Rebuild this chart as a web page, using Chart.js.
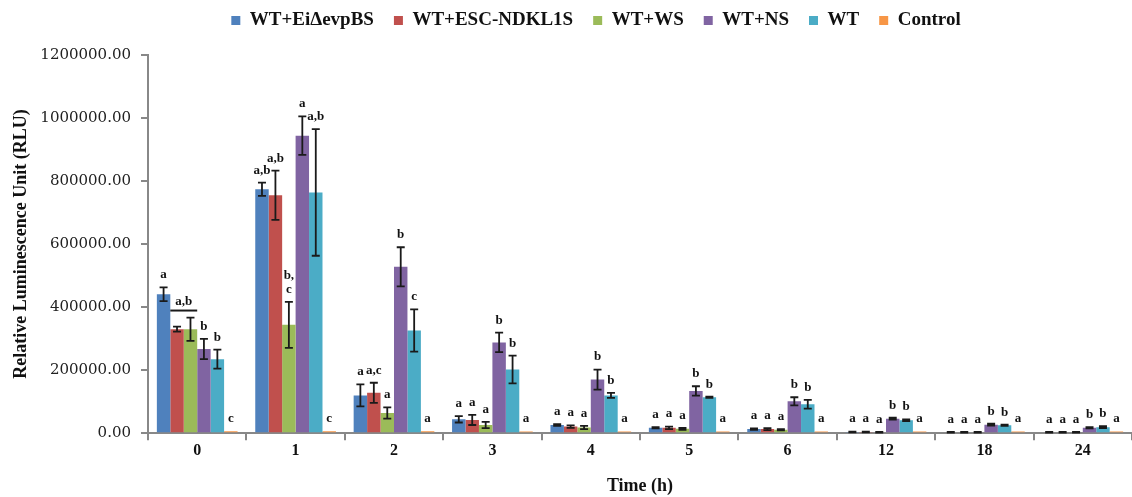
<!DOCTYPE html>
<html>
<head>
<meta charset="utf-8">
<script src="https://cdn.jsdelivr.net/npm/chart.js@4/dist/chart.umd.min.js"></script>
<style>
  html, body { margin: 0; padding: 0; background: #fff; }
  #wrap { width: 1132px; height: 497px; }
</style>
</head>
<body>
<div id="wrap"><canvas id="chart"></canvas></div>
<script>
// Time points (h)
const categories = ['0', '1', '2', '3', '4', '5', '6', '12', '18', '24'];

// Mean RLU per group
const eiDeltaEvpBS = [441000, 774000, 120000, 44000, 26000, 17000, 13000, 4000, 3000, 3000];
const escNdkl1s    = [330000, 755000, 128000, 42000, 21000, 17000, 13000, 4000, 3000, 3000];
const ws           = [330000, 344000, 64000, 26000, 18000, 14000, 11000, 3000, 3000, 3000];
const ns           = [267000, 944000, 528000, 288000, 170000, 134000, 101000, 46000, 27000, 17000];
const wt           = [235000, 764000, 326000, 202000, 120000, 114000, 92000, 41000, 25000, 19000];
const control      = [6000, 6000, 6000, 5000, 5000, 5000, 5000, 5000, 5000, 5000];

// Error (+/-) per group
const eiDeltaEvpBSErr = [22000, 21000, 35000, 10000, 3000, 2000, 2000, 1000, 1000, 1000];
const escNdkl1sErr    = [8000, 78000, 32000, 16000, 4000, 4000, 3000, 1000, 1000, 1000];
const wsErr           = [37000, 73000, 18000, 10000, 5000, 3000, 2000, 1000, 1000, 1000];
const nsErr           = [32000, 61000, 62000, 31000, 32000, 15000, 13000, 3000, 3000, 2000];
const wtErr           = [30000, 201000, 67000, 44000, 8000, 2000, 14000, 3000, 2000, 3000];
const controlErr      = [0, 0, 0, 0, 0, 0, 0, 0, 0, 0];

// Significance letters ('|' = line break)
const eiDeltaEvpBSLetters = ['a', 'a,b', 'a', 'a', 'a', 'a', 'a', 'a', 'a', 'a'];
const escNdkl1sLetters    = ['a,b', 'a,b', 'a,c', 'a', 'a', 'a', 'a', 'a', 'a', 'a'];
const wsLetters           = ['', 'b,|c', 'a', 'a', 'a', 'a', 'a', 'a', 'a', 'a'];
const nsLetters           = ['b', 'a', 'b', 'b', 'b', 'b', 'b', 'b', 'b', 'b'];
const wtLetters           = ['b', 'a,b', 'c', 'b', 'b', 'b', 'b', 'b', 'b', 'b'];
const controlLetters      = ['c', 'c', 'a', 'a', 'a', 'a', 'a', 'a', 'a', 'a'];

// Shared-letter bracket: category 0, red and green bars
const brackets = [{ category: 0, from: 1, to: 2 }];

const yTicks = [0, 200000, 400000, 600000, 800000, 1000000, 1200000];

const SERIF = "'Liberation Serif', 'Times New Roman', serif";

const series = [
  { label: 'WT+EiΔevpBS',   data: eiDeltaEvpBS, err: eiDeltaEvpBSErr, letters: eiDeltaEvpBSLetters, color: '#4F81BD' },
  { label: 'WT+ESC-NDKL1S', data: escNdkl1s,    err: escNdkl1sErr,    letters: escNdkl1sLetters,    color: '#C0504D' },
  { label: 'WT+WS',         data: ws,           err: wsErr,           letters: wsLetters,           color: '#9BBB59' },
  { label: 'WT+NS',         data: ns,           err: nsErr,           letters: nsLetters,           color: '#8064A2' },
  { label: 'WT',            data: wt,           err: wtErr,           letters: wtLetters,           color: '#4BACC6' },
  { label: 'Control',       data: control,      err: controlErr,      letters: controlLetters,      color: '#F79646' }
];

// nudge the legend to where the original sits
const legendShift = {
  id: 'legendShift',
  afterLayout(chart) {
    const lg = chart.legend;
    if (!lg) return;
    const dx = 30, dy = -15;
    lg.left += dx; lg.right += dx;
    lg.top += dy; lg.bottom += dy;
  }
};

// Error bars + letters drawn from the bar elements and y scale
const annotatePlugin = {
  id: 'annotate',
  afterDatasetsDraw(chart) {
    const ctx = chart.ctx;
    const yScale = chart.scales.y;
    const tops = {}; // highest point per dataset/category
    ctx.save();
    ctx.strokeStyle = '#1a1a1a';
    ctx.lineWidth = 1.8;
    series.forEach((s, di) => {
      const meta = chart.getDatasetMeta(di);
      meta.data.forEach((bar, i) => {
        const v = s.data[i], e = s.err[i];
        let top = yScale.getPixelForValue(v);
        if (e) {
          const yt = yScale.getPixelForValue(v + e);
          const yb = yScale.getPixelForValue(v - e);
          const cap = 4;
          ctx.beginPath();
          ctx.moveTo(bar.x, yt); ctx.lineTo(bar.x, yb);
          ctx.moveTo(bar.x - cap, yt); ctx.lineTo(bar.x + cap, yt);
          ctx.moveTo(bar.x - cap, yb); ctx.lineTo(bar.x + cap, yb);
          ctx.stroke();
          top = Math.min(top, yt);
        }
        tops[di + '_' + i] = top;
      });
    });

    ctx.fillStyle = '#111';
    ctx.font = 'bold 13px ' + SERIF;
    ctx.textAlign = 'center';
    ctx.textBaseline = 'bottom';

    const bracketed = {};
    brackets.forEach(b => {
      const m1 = chart.getDatasetMeta(b.from).data[b.category];
      const m2 = chart.getDatasetMeta(b.to).data[b.category];
      let top = Infinity;
      for (let d = b.from; d <= b.to; d++) top = Math.min(top, tops[d + '_' + b.category]);
      const lineY = top - 7;
      const x1 = m1.x - m1.width / 2, x2 = m2.x + m2.width / 2;
      ctx.lineWidth = 2;
      ctx.beginPath(); ctx.moveTo(x1, lineY); ctx.lineTo(x2, lineY); ctx.stroke();
      ctx.fillText(series[b.from].letters[b.category], (x1 + x2) / 2, lineY - 2);
      for (let d = b.from; d <= b.to; d++) bracketed[d + '_' + b.category] = true;
    });

    series.forEach((s, di) => {
      const meta = chart.getDatasetMeta(di);
      meta.data.forEach((bar, i) => {
        if (bracketed[di + '_' + i]) return;
        const txt = s.letters[i];
        if (!txt) return;
        const lines = txt.split('|').reverse();
        let y = tops[di + '_' + i] - 6;
        lines.forEach(line => {
          ctx.fillText(line, bar.x, y);
          y -= 14;
        });
      });
    });
    ctx.restore();
  }
};

new Chart(document.getElementById('chart'), {
  type: 'bar',
  data: {
    labels: categories,
    datasets: series.map(s => ({
      label: s.label,
      data: s.data,
      backgroundColor: s.color,
      borderWidth: 0,
      categoryPercentage: 0.82,
      barPercentage: 1.0
    }))
  },
  options: {
    responsive: true,
    maintainAspectRatio: false,
    animation: false,
    layout: { padding: { top: 6, right: 0, bottom: 0, left: 0 } },
    plugins: {
      legend: {
        position: 'top',
        labels: {
          boxWidth: 9,
          boxHeight: 9,
          padding: 20,
          color: '#111',
          font: { family: SERIF, size: 19, weight: 'bold' }
        }
      },
      tooltip: { enabled: false }
    },
    scales: {
      x: {
        grid: { display: true, drawOnChartArea: false, drawTicks: true, tickLength: 7, color: '#888', lineWidth: 2 },
        border: { color: '#888', width: 2 },
        ticks: { color: '#111', font: { family: SERIF, size: 16, weight: 'bold' }, padding: 1 },
        title: { display: true, text: 'Time (h)', color: '#111', padding: { top: 14, bottom: 0 },
                 font: { family: SERIF, size: 18, weight: 'bold' } }
      },
      y: {
        min: 0,
        max: 1200000,
        afterBuildTicks: scale => { scale.ticks = yTicks.map(v => ({ value: v })); },
        afterFit: scale => { scale.width = 148; },
        grid: { display: true, drawOnChartArea: false, drawTicks: true, tickLength: 7, color: '#888', lineWidth: 2 },
        border: { color: '#888', width: 2 },
        ticks: { color: '#222', font: { family: "'DejaVu Serif', serif", size: 15 }, padding: 10,
                 callback: v => Number(v).toFixed(2) },
        title: { display: true, text: 'Relative Luminescence Unit (RLU)', color: '#111', padding: { top: 11, bottom: 4 },
                 font: { family: SERIF, size: 18, weight: 'bold' } }
      }
    }
  },
  plugins: [annotatePlugin, legendShift]
});
</script>
</body>
</html>
